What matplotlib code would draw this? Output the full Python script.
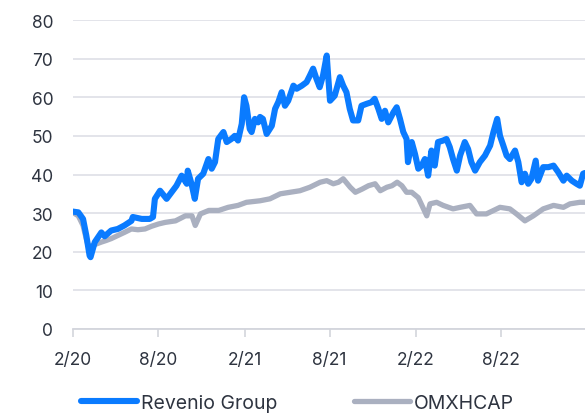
import matplotlib
matplotlib.use("Agg")
import matplotlib.pyplot as plt
import pandas as pd

plt.rcParams['font.family'] = ['Inter', 'DejaVu Sans']

rev_dates = ["2020-02-01","2020-02-13","2020-02-23","2020-03-01","2020-03-08","2020-03-10","2020-03-19",
"2020-04-02","2020-04-09","2020-04-23","2020-05-07","2020-05-21","2020-06-05","2020-06-08","2020-06-27",
"2020-07-14","2020-07-21","2020-07-25","2020-08-05","2020-08-19","2020-08-30","2020-09-09","2020-09-20",
"2020-10-01","2020-10-03","2020-10-11","2020-10-18","2020-10-25","2020-11-05","2020-11-16","2020-11-23",
"2020-11-30","2020-12-07","2020-12-18","2020-12-25","2021-01-04","2021-01-11","2021-01-18","2021-01-26",
"2021-01-31","2021-02-05","2021-02-12","2021-02-16","2021-02-23","2021-03-02","2021-03-06","2021-03-12",
"2021-03-20","2021-03-31","2021-04-07","2021-04-14","2021-04-21","2021-04-28","2021-05-05","2021-05-16",
"2021-05-23","2021-06-03","2021-06-13","2021-06-20","2021-06-27","2021-07-04","2021-07-11","2021-07-18",
"2021-07-26","2021-07-29","2021-08-02","2021-08-12","2021-08-23","2021-08-30","2021-09-06","2021-09-13",
"2021-09-20","2021-10-01","2021-10-08","2021-10-19","2021-10-29","2021-11-05","2021-11-13","2021-11-20",
"2021-11-27","2021-12-04","2021-12-15","2021-12-22","2021-12-29","2022-01-05","2022-01-12","2022-01-15",
"2022-01-23","2022-01-30","2022-02-06","2022-02-13","2022-02-20","2022-02-27","2022-03-06","2022-03-13",
"2022-03-20","2022-03-31","2022-04-07","2022-04-14","2022-04-21","2022-04-29","2022-05-06","2022-05-16",
"2022-05-23","2022-05-30","2022-06-07","2022-06-17","2022-06-28","2022-07-09","2022-07-16","2022-07-24",
"2022-07-30","2022-08-06","2022-08-13","2022-08-20","2022-08-31","2022-09-07","2022-09-14","2022-09-21",
"2022-09-28","2022-10-05","2022-10-14","2022-10-19","2022-10-30","2022-11-10","2022-11-21","2022-12-01",
"2022-12-12","2022-12-19","2022-12-30","2023-01-09","2023-01-16","2023-01-23","2023-01-27"]
rev_values = [30.4,30.2,28.5,24.2,19.0,18.6,22.5,
25.0,24.0,25.5,25.9,26.8,28.0,29.0,28.5,
28.5,29.0,33.7,35.8,33.7,35.5,37.1,39.7,
37.6,41.0,37.6,33.7,38.9,40.2,44.0,41.5,
43.2,49.2,51.0,48.4,49.2,50.0,48.8,53.1,
60.0,57.8,51.8,51.0,54.4,53.5,54.9,54.4,
50.5,52.6,57.0,58.8,61.3,57.8,59.1,63.0,
62.2,63.0,63.9,65.6,67.4,64.8,62.6,65.6,
70.8,65.6,59.1,60.4,65.2,63.0,61.3,57.0,
54.0,54.0,57.8,58.3,58.7,59.6,57.0,54.4,
56.5,53.5,56.1,57.4,54.4,51.0,49.2,43.2,
48.4,45.3,41.5,42.3,44.0,39.7,46.2,42.3,
48.4,48.8,49.2,47.1,44.0,41.0,44.9,48.4,
46.6,43.2,41.0,43.2,44.9,47.5,51.0,54.4,
50.0,47.5,44.9,44.0,46.2,43.2,38.0,40.2,
37.6,38.9,43.6,38.4,41.9,41.9,42.3,40.6,
38.4,39.7,38.4,37.6,37.1,40.2,40.4]

omx_dates = ["2020-02-01","2020-02-13","2020-02-23","2020-03-01","2020-03-08","2020-03-13","2020-03-22",
"2020-04-02","2020-04-12","2020-04-23","2020-05-07","2020-05-21","2020-06-05","2020-06-19","2020-07-04",
"2020-07-18","2020-08-02","2020-08-16","2020-09-07","2020-09-28","2020-10-12","2020-10-19","2020-10-30",
"2020-11-17","2020-12-08","2020-12-28","2021-01-18","2021-02-05","2021-03-06","2021-03-27","2021-04-18",
"2021-05-09","2021-05-30","2021-06-20","2021-07-12","2021-07-26","2021-08-09","2021-08-20","2021-08-30",
"2021-09-14","2021-09-25","2021-10-09","2021-10-23","2021-11-06","2021-11-17","2021-12-01","2021-12-12",
"2021-12-23","2022-01-02","2022-01-12","2022-01-23","2022-02-06","2022-02-24","2022-03-03","2022-03-17",
"2022-03-31","2022-04-21","2022-05-06","2022-05-27","2022-06-10","2022-07-01","2022-07-30","2022-08-20",
"2022-09-03","2022-09-21","2022-10-09","2022-10-30","2022-11-21","2022-12-12","2022-12-26","2023-01-16",
"2023-01-27"]
omx_values = [30.2,29.3,26.8,23.3,20.3,21.6,22.0,
22.5,22.9,23.4,24.2,25.0,25.9,25.7,25.9,
26.6,27.2,27.6,28.0,29.3,29.3,26.8,29.8,
30.7,30.7,31.5,32.0,32.8,33.2,33.7,35.0,
35.4,35.8,36.7,38.0,38.4,37.6,38.0,38.9,
36.7,35.4,36.2,37.1,37.6,35.8,36.7,37.1,
38.0,37.1,35.4,35.4,34.0,29.3,32.4,32.8,
32.0,31.1,31.5,32.0,29.8,29.8,31.5,31.1,
29.8,28.0,29.3,31.1,32.0,31.5,32.4,32.8,
32.8]

tick_dates = ["2020-02-01","2020-08-01","2021-02-01","2021-08-01","2022-02-01","2022-08-01"]
tick_labels = ["2/20","8/20","2/21","8/21","2/22","8/22"]
y_ticks = [0,10,20,30,40,50,60,70,80]
series_names = ["Revenio Group","OMXHCAP"]

BLUE = "#0A7BFF"
GREY = "#AAB0C0"
TXT = "#2E3440"

rd = pd.to_datetime(rev_dates)
od = pd.to_datetime(omx_dates)
td = pd.to_datetime(tick_dates)

fig = plt.figure(figsize=(5.85, 4.14), dpi=100)
ax = fig.add_axes([72.7/585, 1-330/414, 1-72.7/585, (330-21)/414])

ax.plot(od, omx_values, color=GREY, lw=3.8, solid_joinstyle='round', solid_capstyle='round', label=series_names[1], zorder=3)
ax.plot(rd, rev_values, color=BLUE, lw=4.4, solid_joinstyle='round', solid_capstyle='round', label=series_names[0], zorder=4)

ax.set_ylim(0, 80)
ax.set_xlim(rd[0], rd[-1])
ax.set_yticks(y_ticks)
ax.set_xticks(td)
ax.set_xticklabels(tick_labels)
ax.yaxis.grid(True, color="#E1E2E8", lw=1.3)
ax.set_axisbelow(True)
for s in ["left", "right", "top"]:
    ax.spines[s].set_visible(False)
ax.spines["bottom"].set_color("#D3D5DC")
ax.spines["bottom"].set_linewidth(1.3)
ax.tick_params(axis='y', length=0, pad=14, labelsize=12.5, labelcolor=TXT)
ax.tick_params(axis='x', length=6, width=1.2, color="#D3D5DC", pad=10, labelsize=12.5, labelcolor=TXT)

h, l = ax.get_legend_handles_labels()
leg = fig.legend([h[1], h[0]], [l[1], l[0]], loc='lower left', bbox_to_anchor=(81/585, 1/414),
                 ncol=2, frameon=False, fontsize=14, handlelength=2.9, handletextpad=0.18,
                 columnspacing=3.95, labelcolor=TXT, borderpad=0, borderaxespad=0)

fig.savefig("out.png", dpi=100)
